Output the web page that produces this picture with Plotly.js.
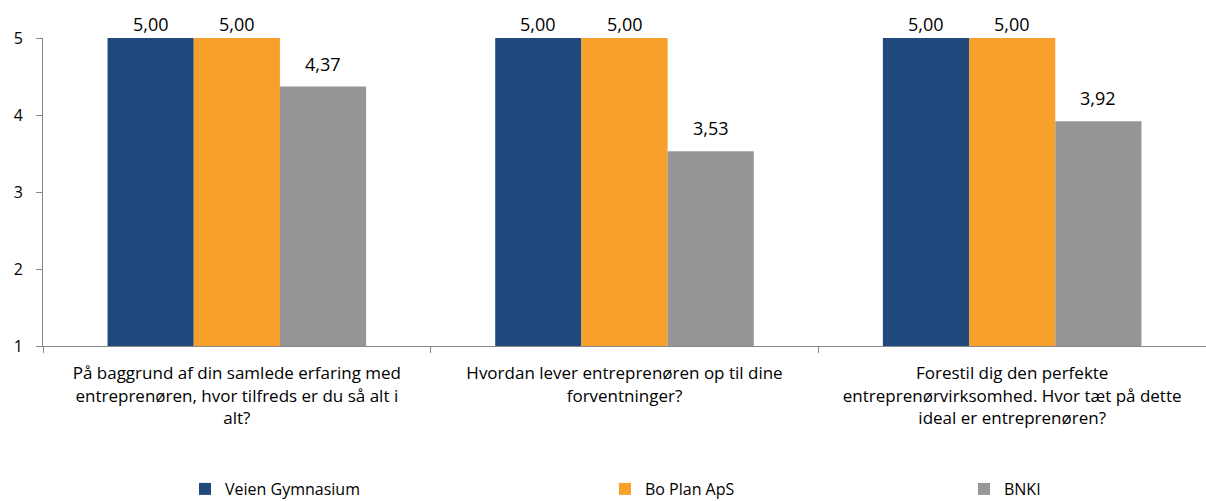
<!DOCTYPE html>
<html><head><meta charset="utf-8">
<script src="https://cdn.plot.ly/plotly-3.0.1.min.js"></script>
<style>html,body{margin:0;padding:0;background:#fff}#chart{width:1206px;height:501px}</style>
</head><body><div id="chart"></div>
<script>
const categories = [
  "På baggrund af din samlede erfaring med<br>entreprenøren, hvor tilfreds er du så alt i<br>alt?",
  "Hvordan lever entreprenøren op til dine<br>forventninger?",
  "Forestil dig den perfekte<br>entreprenørvirksomhed. Hvor tæt på dette<br>ideal er entreprenøren?"
];
const seriesNames = ["Veien Gymnasium", "Bo Plan ApS", "BNKI"];
const veien = [5.00, 5.00, 5.00];
const boPlan = [5.00, 5.00, 5.00];
const bnki = [4.37, 3.53, 3.92];
const yTicks = [1, 2, 3, 4, 5];
const colors = ["#1F497D", "#F8A02C", "#969696"];
const FONT = "'Open Sans', sans-serif";

const W = 1206, H = 501;
const M = {l: 43, r: 0, t: 38, b: 155};
const bargap = 0.333;
const yRange = [1, 5];
const plotW = W - M.l - M.r;
const plotH = H - M.t - M.b;
const catW = plotW / categories.length;
const barW = catW * (1 - bargap) / seriesNames.length;
const pxPerUnit = plotH / (yRange[1] - yRange[0]);

const vals = [veien, boPlan, bnki];
const legendIds = ['legend', 'legend2', 'legend3'];
const traces = vals.map((v, i) => ({
  type: 'bar', name: seriesNames[i], x: categories, y: v,
  marker: {color: colors[i], line: {width: 0}},
  legend: legendIds[i], hoverinfo: 'none'
}));

// data labels: ~23px above bar top, but kept inside the chart area (Excel-like)
const annotations = [];
vals.forEach((v, i) => {
  v.forEach((y, j) => {
    const shiftPx = Math.min(23, (yRange[1] - y) * pxPerUnit + 14);
    annotations.push({
      x: categories[j], y: y, xref: 'x', yref: 'y',
      text: y.toFixed(2).replace('.', ','), showarrow: false,
      xshift: (i - 1) * barW, yshift: shiftPx, yanchor: 'middle', xanchor: 'center',
      font: {family: FONT, size: 18, color: '#000'}
    });
  });
});

const legBase = {orientation: 'h', xanchor: 'left', yref: 'container', y: 29 / H, yanchor: 'top',
  font: {family: FONT, size: 16, color: '#000'}, bgcolor: 'rgba(0,0,0,0)', itemwidth: 30};

const layout = {
  width: W, height: H, margin: M,
  separators: ',.',
  barmode: 'group', bargap: bargap, bargroupgap: 0,
  paper_bgcolor: '#fff', plot_bgcolor: '#fff',
  font: {family: FONT, size: 16, color: '#000'},
  showlegend: true,
  legend: Object.assign({}, legBase, {x: 0.1221}),
  legend2: Object.assign({}, legBase, {x: 0.4832}),
  legend3: Object.assign({}, legBase, {x: 0.7919}),
  annotations: annotations,
  xaxis: {type: 'category', showline: true, linecolor: '#888', linewidth: 1,
          ticks: 'outside', tickson: 'boundaries', ticklen: 6, tickcolor: '#888',
          showgrid: false, tickfont: {family: FONT, size: 17}, automargin: false,
          ticklabelstandoff: 12},
  yaxis: {range: yRange, tickvals: yTicks, showline: true, linecolor: '#888',
          ticks: 'outside', ticklen: 6, tickcolor: '#888', showgrid: false, zeroline: false,
          tickfont: {family: FONT, size: 16}, automargin: false, ticklabelstandoff: 10}
};
Plotly.newPlot('chart', traces, layout, {displayModeBar: false, staticPlot: true});
</script></body></html>
